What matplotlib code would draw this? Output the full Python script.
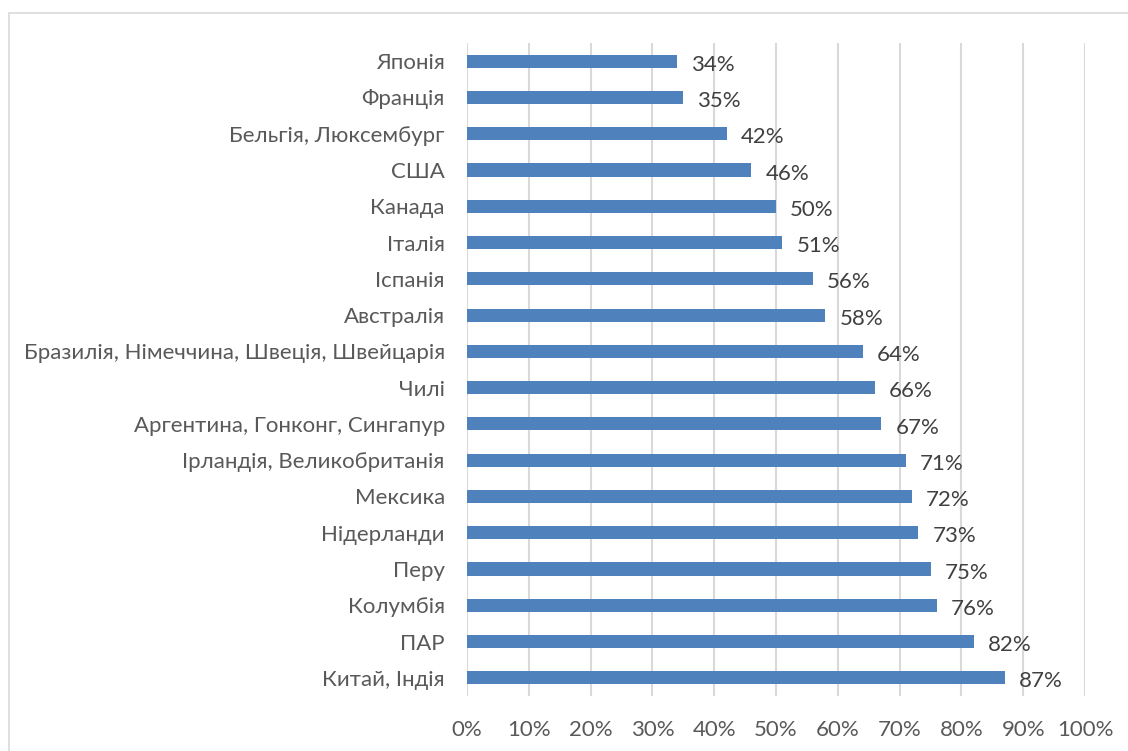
import numpy as np
import matplotlib.pyplot as plt
from matplotlib.patches import Rectangle

plt.rcParams['font.family'] = ['Lato', 'DejaVu Sans']

countries = ['Японія', 'Франція', 'Бельгія, Люксембург', 'США', 'Канада', 'Італія',
             'Іспанія', 'Австралія', 'Бразилія, Німеччина, Швеція, Швейцарія', 'Чилі',
             'Аргентина, Гонконг, Сингапур', 'Ірландія, Великобританія', 'Мексика',
             'Нідерланди', 'Перу', 'Колумбія', 'ПАР', 'Китай, Індія']
values = [34, 35, 42, 46, 50, 51, 56, 58, 64, 66, 67, 71, 72, 73, 75, 76, 82, 87]
xticks = [0, 10, 20, 30, 40, 50, 60, 70, 80, 90, 100]

W, H = 1128, 751
fig = plt.figure(figsize=(W / 100, H / 100), dpi=100)
# chart area border
fig.patches.append(Rectangle((9 / W, -0.01), 1.02, 1 - 13 / H + 0.01, transform=fig.transFigure,
                             fill=False, edgecolor='#d9d9d9', linewidth=1.2))

ax = fig.add_axes([467 / W, 1 - 696 / H, (1085 - 467) / W, (696 - 43) / H])
y = np.arange(len(countries))
ax.barh(y, values, height=0.36, color='#4f81bd')
ax.set_xlim(0, 100)
ax.set_ylim(len(countries) - 0.5, -0.5)
ax.set_xticks(xticks)
ax.set_xticklabels([f'{t}%' for t in xticks])
ax.set_yticks(y)
ax.set_yticklabels(countries)
ax.tick_params(axis='both', length=0, labelsize=16, colors='#595959')
ax.tick_params(axis='x', pad=17)
ax.tick_params(axis='y', pad=16)
ax.grid(axis='x', color='#d9d9d9', linewidth=1.5)
ax.set_axisbelow(True)
for s in ax.spines.values():
    s.set_visible(False)

for yi, v in zip(y, values):
    ax.text(v + 2.3, yi + 0.1, f'{v}%', va='center', ha='left', fontsize=16, color='#404040')

fig.savefig('out.png', dpi=100)
